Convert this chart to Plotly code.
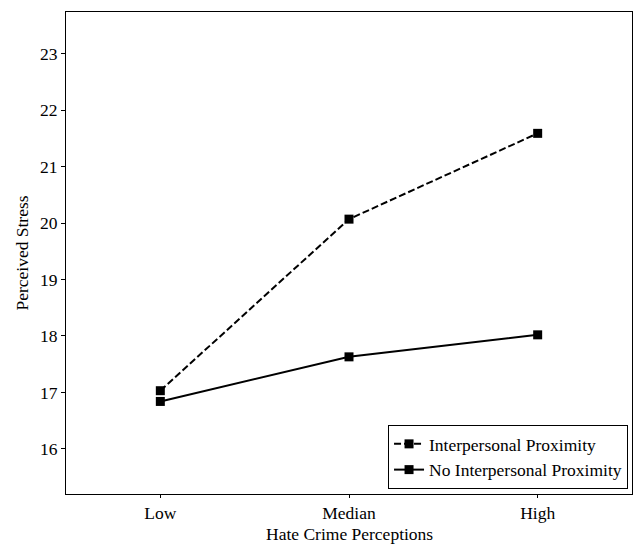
import plotly.graph_objects as go

categories = ["Low", "Median", "High"]
proximity = [17.03, 20.07, 21.59]
no_proximity = [16.84, 17.63, 18.02]
y_ticks = [16, 17, 18, 19, 20, 21, 22, 23]
x_title = "Hate Crime Perceptions"
y_title = "Perceived Stress"

x_idx = list(range(len(categories)))

FONT = "Liberation Serif"
FS = 17.5

fig = go.Figure()
fig.add_trace(go.Scatter(
    x=x_idx, y=proximity, mode="lines+markers", name="Interpersonal Proximity",
    line=dict(color="black", width=2, dash="7px,3px"),
    marker=dict(symbol="square", size=9, color="black"),
))
fig.add_trace(go.Scatter(
    x=x_idx, y=no_proximity, mode="lines+markers", name="No Interpersonal Proximity",
    line=dict(color="black", width=2),
    marker=dict(symbol="square", size=9, color="black"),
))

fig.add_annotation(
    text=x_title, xref="paper", yref="paper", x=0.5, y=0,
    xanchor="center", yanchor="bottom", yshift=-51, showarrow=False,
    borderpad=0, font=dict(family=FONT, size=FS, color="black"),
)

fig.update_layout(
    width=637, height=545,
    margin=dict(l=66, r=5, t=12, b=51, autoexpand=False),
    paper_bgcolor="white", plot_bgcolor="white",
    font=dict(family=FONT, size=FS, color="black"),
    showlegend=True,
    legend=dict(
        x=0.993, y=0.0104, xanchor="right", yanchor="bottom",
        bordercolor="black", borderwidth=1, bgcolor="white",
        font=dict(family=FONT, size=FS), tracegroupgap=0, itemwidth=30,
    ),
    xaxis=dict(
        range=[-0.5, 2.5], tickmode="array", tickvals=x_idx, ticktext=categories,
        showgrid=False, zeroline=False, showline=True, linecolor="black", linewidth=1,
        mirror=True, ticks="outside", ticklen=3, tickcolor="black", automargin=False,
        tickfont=dict(family=FONT, size=FS),
    ),
    yaxis=dict(
        range=[15.20, 23.74], tickmode="array", tickvals=y_ticks,
        showgrid=False, zeroline=False, showline=True, linecolor="black", linewidth=1,
        mirror=True, ticks="outside", ticklen=4, tickcolor="black", automargin=False,
        tickfont=dict(family=FONT, size=FS),
        title=dict(text=y_title, standoff=6, font=dict(family=FONT, size=FS)),
    ),
)

fig.write_html(
    "out.html",
    config={"displayModeBar": False},
    post_script="document.body.style.margin='0';document.body.style.padding='0';",
)
